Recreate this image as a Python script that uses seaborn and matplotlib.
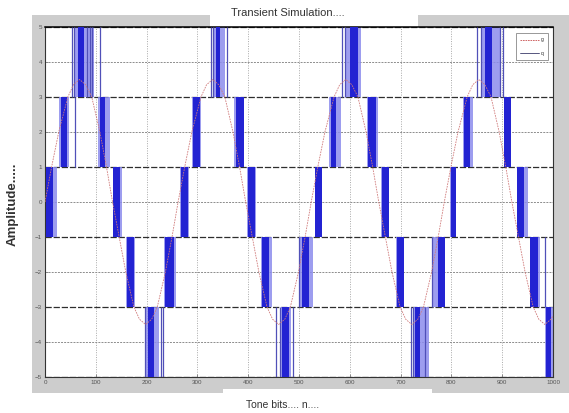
import matplotlib
matplotlib.use('Agg')
import matplotlib.pyplot as plt
from matplotlib.patches import Rectangle
from matplotlib.lines import Line2D
import pandas as pd
import seaborn as sns

# reference sine (red trace)
ref_n = [0, 13, 27, 45, 56, 68, 80, 92, 108, 121, 133, 146, 159, 175, 186, 198, 210, 221, 237, 250,
         262, 275, 289, 307, 318, 330, 342, 354, 370, 383, 395, 408, 421, 437, 448, 460, 472, 483, 499, 512,
         524, 537, 551, 569, 580, 592, 604, 616, 632, 645, 657, 670, 683, 699, 710, 722, 734, 745, 761, 774,
         786, 799, 813, 831, 842, 854, 866, 878, 894, 907, 919, 932, 945, 961, 972, 984, 996, 1000]
ref_v = [0, 1, 2, 3, 3.35, 3.5, 3.35, 3, 2, 1, 0, -1, -2, -3, -3.35, -3.5, -3.35, -3, -2, -1,
         0, 1, 2, 3, 3.35, 3.5, 3.35, 3, 2, 1, 0, -1, -2, -3, -3.35, -3.5, -3.35, -3, -2, -1,
         0, 1, 2, 3, 3.35, 3.5, 3.35, 3, 2, 1, 0, -1, -2, -3, -3.35, -3.5, -3.35, -3, -2, -1,
         0, 1, 2, 3, 3.35, 3.5, 3.35, 3, 2, 1, 0, -1, -2, -3, -3.35, -3.5, -3.35, -3.25]

# switching bursts of the multilevel output (blue): band, whole burst, dense part
burst_lo = [-1, 1, 3, 1, -1, -3, -5, -3, -1, 1, 3, 1, -1, -3, -5, -3,
            -1, 1, 3, 1, -1, -3, -5, -3, -1, 1, 3, 1, -1, -3, -5]
burst_hi = [1, 3, 5, 3, 1, -1, -3, -1, 1, 3, 5, 3, 1, -1, -3, -1,
            1, 3, 5, 3, 1, -1, -3, -1, 1, 3, 5, 3, 1, -1, -3]
burst_start = [0, 28, 58, 105, 133, 159, 198, 235, 266, 289, 330, 372, 398, 426, 464, 500,
               531, 560, 590, 633, 662, 691, 725, 762, 798, 822, 858, 903, 930, 955, 985]
burst_end = [23, 47, 96, 128, 152, 178, 225, 257, 283, 308, 355, 392, 415, 446, 484, 527,
             546, 582, 623, 656, 678, 707, 755, 787, 810, 843, 895, 917, 951, 975, 1000]
dense_start = [2, 31, 64, 108, 134, 162, 202, 237, 268, 292, 336, 375, 400, 428, 466, 506,
               532, 562, 600, 636, 663, 692, 728, 774, 799, 824, 866, 904, 930, 955, 986]
dense_end = [16, 43, 76, 119, 148, 176, 214, 254, 282, 305, 344, 391, 413, 441, 480, 520,
             545, 573, 617, 651, 677, 706, 738, 787, 810, 837, 879, 917, 943, 970, 997]

# single switching edges standing apart from the bursts
edge_n = [59, 54, 57, 82, 88, 92, 108, 197, 228, 233, 327, 331, 358, 454, 462, 489, 499,
          585, 590, 720, 724, 748, 762, 851, 858, 895, 902, 984]
edge_lo = [1, 3, 3, 3, 3, 3, 3, -5, -5, -5, 3, 3, 3, -5, -5, -5, -3,
           3, 3, -5, -5, -5, -3, 3, 3, 3, 3, -3]
edge_hi = [3, 5, 5, 5, 5, 5, 5, -3, -3, -3, 5, 5, 5, -3, -3, -3, -1,
           5, 5, -3, -3, -3, -1, 5, 5, 5, 5, -1]

x_ticks = list(range(0, 1001, 100))
y_ticks = list(range(-5, 6))

sns.set_style('ticks', {'xtick.direction': 'in', 'ytick.direction': 'in'})
plt.rcParams['font.family'] = ['Liberation Sans', 'DejaVu Sans']

fig = plt.figure(figsize=(5.69, 4.13), dpi=100)
fig.patch.set_facecolor('white')

# matlab-like grey figure frame with white cut-outs for title / xlabel
fig.patches.append(Rectangle((0.056, 0.048), 0.944, 0.916, transform=fig.transFigure,
                             facecolor='#cdcdcd', edgecolor='none', zorder=-2))
fig.patches.append(Rectangle((0.369, 0.935), 0.366, 0.07, transform=fig.transFigure,
                             facecolor='white', edgecolor='none', zorder=-1))
fig.patches.append(Rectangle((0.392, 0.0), 0.367, 0.058, transform=fig.transFigure,
                             facecolor='white', edgecolor='none', zorder=-1))

ax = fig.add_axes([0.0791, 0.0872, 0.8928, 0.8475])
ax.set_zorder(2)
ax.set_facecolor('white')

# grid
for xv in x_ticks:
    ax.axvline(xv, color='#a8a8a8', lw=0.7, linestyle=(0, (1, 1.5)), zorder=1)
for yv in y_ticks:
    if yv % 2:
        ax.axhline(yv, color='#2e2e2e', lw=0.9, linestyle=(0, (5, 1.5)), zorder=1)
    else:
        ax.axhline(yv, color='#8c8c8c', lw=0.7, linestyle=(0, (2, 1.2)), zorder=1)

# blue output bursts
for lo, hi, s, e, ds, de in zip(burst_lo, burst_hi, burst_start, burst_end, dense_start, dense_end):
    ax.fill_between([s, e], lo, hi, color='#8c8ced', alpha=0.85, lw=0, zorder=2)
    ax.fill_between([ds, de], lo, hi, color='#2323d2', lw=0, zorder=3)
ax.vlines(edge_n, edge_lo, edge_hi, colors='#5050b8', lw=0.9, zorder=3)

# red reference
ref = pd.DataFrame({'n': ref_n, 'v': ref_v})
sns.lineplot(data=ref, x='n', y='v', ax=ax, color='#d07a7a', lw=0.6,
             linestyle=(0, (2, 1.2)), zorder=4, legend=False)

ax.set_xlim(0, 1000)
ax.set_ylim(-5, 5)
ax.set_xticks(x_ticks)
ax.set_yticks(y_ticks)
ax.tick_params(labelsize=4.5, colors='#555555', length=2, width=0.5, pad=2)
for sp in ax.spines.values():
    sp.set_color('#333333')
    sp.set_linewidth(0.8)
    sp.set_visible(True)
ax.spines['top'].set_color('black')
ax.spines['top'].set_linewidth(1.1)

ax.set_xlabel('')
ax.set_ylabel('')
fig.text(0.505, 0.968, 'Transient Simulation....', ha='center', va='center',
         fontsize=8, color='#333333')
fig.text(0.496, 0.019, 'Tone bits.... n....', ha='center', va='center',
         fontsize=7.5, color='#333333')
fig.text(0.022, 0.505, 'Amplitude.....', ha='center', va='center', rotation=90,
         fontsize=9.5, fontweight='bold', color='#333333')

handles = [Line2D([], [], color='#c85050', lw=0.6, linestyle=(0, (2, 1))),
           Line2D([], [], color='#3a3a6a', lw=0.6)]
leg = ax.legend(handles, ['g', 'q'], loc='upper right', fontsize=3.5, handlelength=4,
                borderpad=0.9, labelspacing=1.8, handletextpad=0.3,
                fancybox=False, framealpha=1, edgecolor='#888888',
                bbox_to_anchor=(0.995, 0.99))
leg.get_frame().set_linewidth(0.6)

fig.savefig('out.png', dpi=100)
